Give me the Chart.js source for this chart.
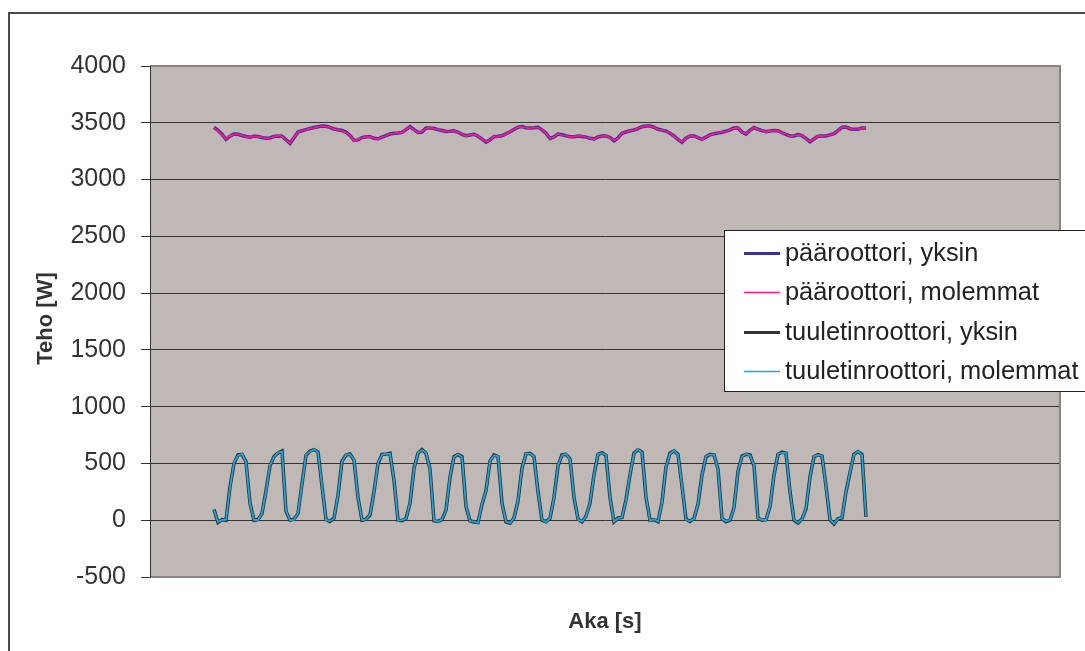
<!DOCTYPE html>
<html>
<head>
<meta charset="utf-8">
<script src="https://cdn.jsdelivr.net/npm/chart.js@4"></script>
<style>
  body { margin: 0; background: #fff; }
  canvas { display: block; }
</style>
</head>
<body>
<canvas id="tehoChart" width="1085" height="651"></canvas>
<script>
// 系列データ
const seriesLabels = ['pääroottori, yksin', 'pääroottori, molemmat', 'tuuletinroottori, yksin', 'tuuletinroottori, molemmat'];
const yTicks = [-500, 0, 500, 1000, 1500, 2000, 2500, 3000, 3500, 4000];

const mainSolo = [3460,3434,3399,3354,3382,3401,3399,3388,3379,3372,
  3382,3379,3371,3364,3366,3380,3384,3382,3350,3319,
  3369,3419,3430,3440,3449,3458,3465,3472,3469,3460,
  3445,3438,3432,3418,3388,3344,3349,3370,3377,3377,
  3363,3359,3373,3387,3401,3408,3411,3415,3440,3465,
  3439,3414,3419,3454,3455,3450,3440,3432,3423,3425,
  3429,3416,3398,3386,3392,3399,3381,3356,3330,3351,
  3378,3381,3385,3403,3421,3441,3461,3466,3456,3453,
  3456,3460,3438,3409,3362,3376,3400,3394,3386,3376,
  3376,3384,3380,3374,3363,3357,3375,3384,3384,3371,
  3341,3366,3408,3419,3430,3437,3448,3465,3471,3471,
  3461,3443,3435,3426,3408,3384,3353,3328,3364,3384,
  3384,3370,3355,3374,3393,3404,3410,3417,3425,3437,
  3454,3454,3418,3400,3434,3458,3443,3431,3422,3427,
  3432,3430,3412,3397,3383,3384,3396,3387,3360,3333,
  3357,3382,3384,3384,3393,3404,3431,3461,3462,3448,
  3442,3442,3455,3455];

const mainBoth = [3455,3430,3396,3357,3385,3398,3397,3390,3376,3374,
  3380,3377,3373,3362,3368,3378,3386,3380,3347,3322,
  3372,3416,3432,3438,3451,3456,3467,3470,3466,3462,
  3443,3440,3430,3415,3391,3341,3352,3368,3379,3375,
  3365,3357,3375,3385,3403,3406,3413,3412,3443,3462,
  3436,3417,3422,3451,3457,3448,3442,3430,3425,3423,
  3431,3413,3400,3384,3394,3397,3383,3353,3333,3349,
  3380,3379,3387,3400,3424,3438,3463,3464,3458,3451,
  3458,3457,3440,3406,3365,3374,3402,3392,3388,3374,
  3378,3382,3382,3372,3365,3355,3377,3382,3386,3368,
  3344,3364,3410,3417,3432,3435,3450,3463,3473,3468,
  3463,3440,3437,3423,3410,3382,3356,3331,3361,3386,
  3382,3372,3352,3376,3391,3406,3408,3419,3422,3439,
  3451,3456,3415,3403,3431,3460,3440,3433,3419,3429,
  3430,3432,3409,3399,3381,3386,3393,3389,3357,3336,
  3355,3384,3382,3386,3391,3406,3428,3463,3459,3450,
  3440,3444,3452,3457];

const fanSolo = [94,-20,5,0,295,500,575,580,515,150,
  0,6,60,260,480,560,593,610,80,0,
  8,60,320,572,610,622,600,300,5,-10,
  20,220,520,574,583,530,200,0,10,45,
  250,500,580,583,589,350,0,-4,15,149,
  457,590,622,590,450,-5,-10,5,90,380,
  560,578,560,120,-5,-15,-20,140,260,520,
  575,560,150,-15,-27,20,170,460,585,590,
  560,250,0,-13,17,200,480,575,580,540,
  200,10,-15,35,150,400,580,595,570,200,
  -13,20,25,180,400,590,620,600,200,0,
  5,-13,160,470,590,610,580,300,10,-10,
  15,140,400,560,580,575,450,15,-13,0,
  110,430,565,580,575,480,20,0,5,120,
  400,580,600,590,250,0,-25,10,100,380,
  560,578,565,300,5,-33,15,20,250,420,
  580,605,580,30];

const fanBoth = [90,-15,2,4,290,505,570,584,510,145,
  3,2,65,255,485,556,596,605,85,-3,
  5,65,315,575,606,625,596,305,2,-6,
  16,225,515,578,580,534,195,3,8,50,
  245,505,576,586,585,355,-4,0,12,154,
  452,594,618,594,445,-2,-13,8,85,385,
  556,581,557,125,-8,-12,-24,145,255,525,
  571,563,145,-12,-24,16,175,455,588,586,
  564,245,4,-16,20,195,485,571,584,536,
  205,6,-12,31,155,395,584,591,574,195,
  -10,16,28,175,405,586,624,596,205,-4,
  8,-10,155,475,586,614,576,305,6,-7,
  12,145,395,564,577,579,445,12,-10,3,
  105,435,561,584,571,485,16,3,2,125,
  395,584,596,594,245,4,-22,7,105,375,
  564,574,568,295,8,-30,12,24,245,425,
  576,608,576,34];

const FONT = '"Liberation Sans", Arial, sans-serif';

// näytenumero x-akselille
function toPoints(arr) {
  return arr.map((v, i) => ({ x: i, y: v }));
}

// piirtoalueen tausta ja reunat
const plotBg = {
  id: 'plotBg',
  beforeDraw(chart) {
    const { ctx, chartArea: a } = chart;
    ctx.save();
    ctx.fillStyle = '#fff';
    ctx.fillRect(0, 0, chart.width, chart.height);
    // ulkoreuna
    ctx.strokeStyle = '#4a4a4a';
    ctx.lineWidth = 2;
    ctx.strokeRect(9, 13, 1200, 1000);
    ctx.fillStyle = '#c0b8b5';
    ctx.fillRect(a.left, a.top, a.right - a.left, a.bottom - a.top);
    ctx.restore();
  },
  beforeDatasetsDraw(chart) {
    const { ctx, chartArea: a } = chart;
    ctx.save();
    ctx.strokeStyle = '#8c8282';
    ctx.lineWidth = 2;
    ctx.beginPath();
    ctx.moveTo(a.left, a.top);
    ctx.lineTo(a.right, a.top);
    ctx.lineTo(a.right, a.bottom);
    ctx.lineTo(a.left, a.bottom);
    ctx.stroke();
    ctx.strokeStyle = '#333';
    ctx.lineWidth = 1;
    ctx.beginPath();
    ctx.moveTo(a.left + 0.5, a.top);
    ctx.lineTo(a.left + 0.5, a.bottom);
    ctx.stroke();
    ctx.restore();
  }
};

// akselien otsikot ja selite
const extras = {
  id: 'extras',
  afterDraw(chart) {
    const { ctx, chartArea: a } = chart;
    ctx.save();
    ctx.fillStyle = '#333';
    ctx.font = 'bold 22px ' + FONT;
    ctx.textAlign = 'center';
    ctx.textBaseline = 'middle';
    ctx.fillText('Aka [s]', (a.left + a.right) / 2, 622);
    ctx.save();
    ctx.translate(46, (a.top + a.bottom) / 2 - 3);
    ctx.rotate(-Math.PI / 2);
    ctx.fillText('Teho [W]', 0, 0);
    ctx.restore();

    // selite
    ctx.fillStyle = '#fff';
    ctx.fillRect(724, 230, 400, 162);
    ctx.strokeStyle = '#222';
    ctx.lineWidth = 1;
    ctx.strokeRect(724.5, 230.5, 400, 161);
    ctx.font = '25.4px ' + FONT;
    ctx.textAlign = 'left';
    chart.data.datasets.forEach((ds, i) => {
      const y = 253 + i * 39.3;
      ctx.strokeStyle = ds.borderColor;
      ctx.lineWidth = ds.legendWidth;
      ctx.beginPath();
      ctx.moveTo(744, Math.round(y) + 0.5);
      ctx.lineTo(780, Math.round(y) + 0.5);
      ctx.stroke();
      ctx.fillStyle = '#222';
      ctx.fillText(ds.label, 785, y + 1);
    });
    ctx.restore();
  }
};

const ctx = document.getElementById('tehoChart').getContext('2d');
new Chart(ctx, {
  type: 'line',
  data: {
    datasets: [
      { label: seriesLabels[0], data: toPoints(mainSolo), borderColor: '#333399', borderWidth: 3.5, legendWidth: 3, order: 3 },
      { label: seriesLabels[1], data: toPoints(mainBoth), borderColor: '#ff1493', borderWidth: 1.8, legendWidth: 1.5, order: 2 },
      { label: seriesLabels[2], data: toPoints(fanSolo), borderColor: '#333333', borderWidth: 3.5, legendWidth: 3, order: 1 },
      { label: seriesLabels[3], data: toPoints(fanBoth), borderColor: '#1aa6e0', borderWidth: 1.8, legendWidth: 1.5, order: 0 }
    ]
  },
  options: {
    responsive: false,
    animation: false,
    events: [],
    layout: { padding: { left: 0, top: 66, right: 25, bottom: 74 } },
    elements: { point: { radius: 0 }, line: { tension: 0 } },
    plugins: { legend: { display: false }, tooltip: { enabled: false } },
    scales: {
      x: { type: 'linear', display: false, min: -16, max: 211.5 },
      y: {
        min: -500,
        max: 4000,
        afterFit(scale) { scale.width = 150; },
        afterBuildTicks(scale) { scale.ticks = yTicks.map(v => ({ value: v })); },
        grid: { color: '#333', lineWidth: 1, tickLength: 9, tickColor: '#333' },
        border: { color: '#333' },
        ticks: {
          color: '#333',
          padding: 15,
          font: { family: FONT, size: 25 },
          callback: (v) => String(v)
        }
      }
    }
  },
  plugins: [plotBg, extras]
});
</script>
</body>
</html>
